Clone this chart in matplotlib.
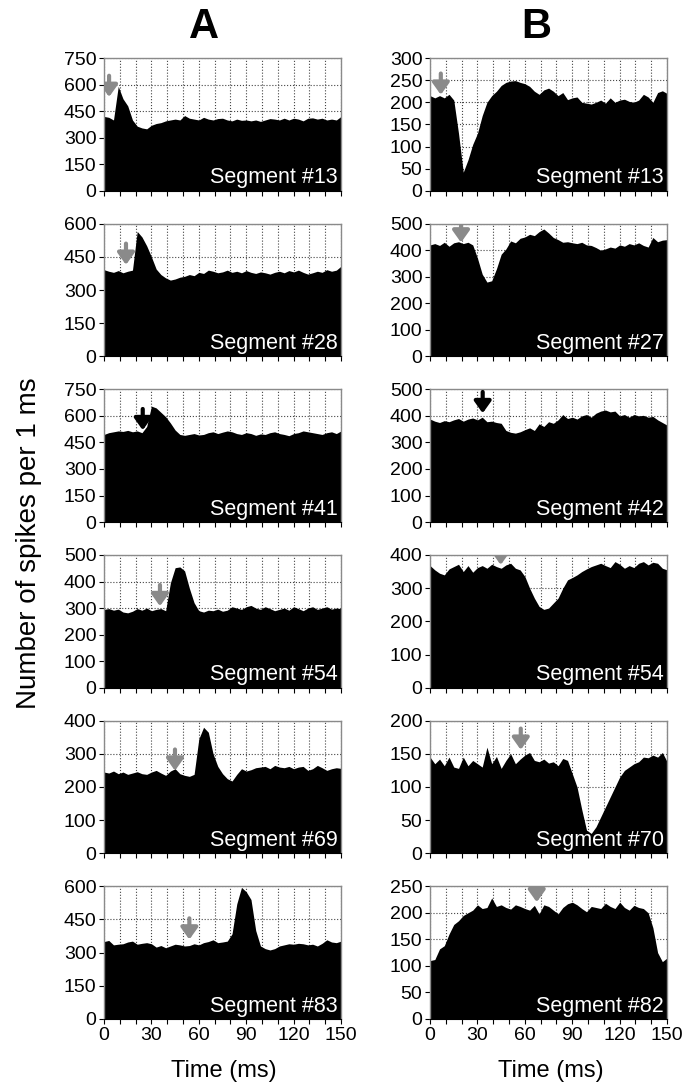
import numpy as np
import matplotlib
matplotlib.use("Agg")
import matplotlib.pyplot as plt
from matplotlib.patches import FancyArrowPatch

plt.rcParams['font.family'] = ['Liberation Sans', 'DejaVu Sans']

# --- data: spike counts per 1 ms, read every 3 ms (0..150 ms) ---
time_ms = np.arange(0, 151, 3)

a13 = [420, 415, 400, 590, 520, 480, 400, 365, 355, 350, 370, 380, 385, 395, 400, 405, 400,
       425, 410, 405, 400, 415, 405, 400, 408, 410, 400, 395, 405, 398, 400, 395, 400, 392,
       400, 408, 405, 400, 410, 400, 410, 405, 395, 410, 412, 405, 410, 400, 405, 400, 420]
b13 = [215, 210, 215, 210, 218, 205, 130, 42, 70, 105, 130, 170, 200, 215, 225, 238, 245,
       248, 249, 245, 242, 236, 225, 218, 228, 232, 225, 215, 222, 206, 210, 212, 200, 198,
       196, 200, 205, 198, 210, 200, 205, 207, 202, 200, 205, 218, 212, 200, 222, 226, 220]
a28 = [392, 385, 380, 388, 378, 385, 390, 565, 540, 500, 450, 395, 370, 355, 345, 350, 358,
       362, 370, 365, 380, 375, 390, 385, 378, 382, 390, 380, 385, 378, 388, 380, 375, 382,
       378, 372, 380, 385, 378, 388, 382, 390, 380, 372, 378, 385, 380, 392, 385, 390, 408]
b27 = [420, 425, 418, 430, 415, 428, 432, 425, 430, 420, 370, 310, 280, 285, 330, 385, 405,
       435, 428, 445, 450, 460, 455, 470, 480, 465, 448, 440, 430, 432, 428, 425, 430, 420,
       418, 410, 400, 405, 412, 408, 420, 415, 425, 420, 428, 418, 412, 448, 432, 438, 440]
a41 = [495, 505, 510, 515, 512, 518, 510, 515, 505, 540, 655, 645, 620, 595, 560, 520, 495,
       490, 495, 500, 492, 495, 505, 510, 500, 508, 515, 510, 500, 495, 505, 500, 490, 498,
       495, 505, 510, 500, 495, 488, 500, 505, 515, 510, 505, 500, 495, 505, 510, 500, 515]
b42 = [388, 380, 375, 382, 378, 385, 390, 380, 388, 392, 385, 395, 378, 380, 375, 372, 345,
       338, 335, 340, 348, 355, 345, 370, 360, 378, 372, 385, 405, 390, 395, 388, 400, 405,
       395, 410, 418, 422, 415, 418, 400, 405, 395, 405, 400, 402, 395, 398, 385, 375, 365]
a54 = [295, 298, 292, 296, 285, 282, 288, 298, 292, 300, 290, 295, 298, 290, 395, 452, 455,
       440, 375, 320, 290, 285, 292, 290, 296, 288, 292, 305, 300, 295, 305, 310, 300, 295,
       305, 298, 290, 295, 300, 292, 305, 298, 290, 300, 305, 295, 300, 305, 296, 300, 298]
b54 = [368, 355, 345, 340, 358, 365, 372, 350, 368, 348, 362, 368, 360, 372, 365, 360, 370,
       375, 360, 355, 335, 300, 270, 245, 236, 240, 255, 270, 300, 325, 332, 340, 350, 358,
       365, 370, 375, 368, 362, 380, 372, 360, 368, 362, 375, 380, 370, 378, 375, 360, 355]
a69 = [245, 242, 248, 240, 245, 238, 242, 246, 240, 238, 245, 250, 242, 235, 248, 255, 240,
       235, 232, 238, 345, 380, 365, 300, 262, 240, 225, 218, 238, 255, 248, 252, 258, 260,
       262, 255, 265, 260, 258, 262, 255, 260, 262, 250, 255, 265, 258, 250, 255, 258, 256]
b70 = [145, 135, 142, 132, 145, 130, 128, 145, 132, 140, 135, 130, 160, 135, 146, 128, 140,
       150, 135, 142, 148, 152, 140, 138, 142, 136, 138, 132, 143, 140, 120, 100, 66, 35,
       30, 40, 55, 70, 85, 100, 115, 125, 130, 135, 138, 145, 144, 148, 145, 152, 138]
a83 = [350, 355, 335, 338, 340, 348, 352, 338, 342, 345, 340, 325, 332, 322, 330, 338, 335,
       330, 332, 340, 335, 345, 350, 358, 345, 348, 352, 385, 520, 595, 575, 540, 400, 330,
       318, 312, 318, 330, 335, 340, 338, 342, 340, 335, 338, 330, 342, 358, 348, 345, 352]
b82 = [110, 112, 132, 138, 160, 178, 185, 195, 200, 205, 215, 208, 210, 228, 212, 215, 210,
       207, 215, 212, 208, 205, 214, 198, 215, 212, 205, 198, 210, 217, 220, 215, 208, 202,
       212, 210, 208, 218, 212, 208, 220, 210, 205, 214, 210, 208, 200, 172, 125, 108, 115]

col_a = [a13, a28, a41, a54, a69, a83]
col_b = [b13, b27, b42, b54, b70, b82]
names_a = ['Segment #13', 'Segment #28', 'Segment #41', 'Segment #54', 'Segment #69', 'Segment #83']
names_b = ['Segment #13', 'Segment #27', 'Segment #42', 'Segment #54', 'Segment #70', 'Segment #82']
ymax_a = [750, 600, 750, 500, 400, 600]
ymax_b = [300, 500, 500, 400, 200, 250]
ystep_a = [150, 150, 150, 100, 100, 150]
ystep_b = [50, 100, 100, 100, 50, 50]

# arrow: (time in ms, tip height)
arrows_a = [(3.2, 530), (13.9, 414), (24.5, 519), (35.4, 307), (44.9, 249), (54.0, 359)]
arrows_b = [(6.8, 217), (19.6, 429), (33.3, 410), (44.7, 370), (57.4, 156), (67.5, 220)]
arrow_col_a = ['#8a8a8a', '#8a8a8a', 'black', '#8a8a8a', '#8a8a8a', '#8a8a8a']
arrow_col_b = ['#8a8a8a', '#8a8a8a', 'black', '#8a8a8a', '#8a8a8a', '#8a8a8a']

# --- figure ---
fig = plt.figure(figsize=(7, 10.89), dpi=100)
gs = fig.add_gridspec(6, 2, left=0.1486, right=0.953, top=0.9467, bottom=0.0643,
                      wspace=0.3755, hspace=0.248)


def draw_panel(ax, vals, name, ymax, ystep, arrow, acol, last_row):
    ax.set_axisbelow(True)
    ax.fill_between(time_ms, 0, vals, color='black', lw=0, zorder=1)
    ax.set_xlim(0, 150)
    ax.set_ylim(0, ymax)
    ax.set_xticks(np.arange(0, 151, 10))
    if last_row:
        ax.set_xticklabels([str(v) if v % 30 == 0 else '' for v in range(0, 151, 10)])
    else:
        ax.set_xticklabels([])
    ax.set_yticks(np.arange(0, ymax + 1, ystep))
    ax.grid(True, linestyle=':', color='#444444', linewidth=0.8)
    ax.tick_params(axis='both', direction='out', length=3.5, width=0.8, labelsize=14, pad=2)
    for side in ['top', 'right', 'left']:
        ax.spines[side].set_color('#8a8a8a')
        ax.spines[side].set_linewidth(1.0)
    ax.spines['bottom'].set_color('black')
    ax.text(0.985, 0.055, name, transform=ax.transAxes, ha='right', va='baseline',
            color='white', fontsize=15.5, zorder=5)
    # small downward arrow marking the stimulus
    x, tip = arrow
    tail = tip + 0.16 * ymax
    ar = FancyArrowPatch((x, tail), (x, tip), arrowstyle='-|>,head_width=0.5,head_length=0.7',
                         mutation_scale=10, lw=3.0, color=acol, shrinkA=0, shrinkB=0, zorder=4)
    ax.add_patch(ar)


for r in range(6):
    ax = fig.add_subplot(gs[r, 0])
    draw_panel(ax, col_a[r], names_a[r], ymax_a[r], ystep_a[r], arrows_a[r], arrow_col_a[r], r == 5)
    ax = fig.add_subplot(gs[r, 1])
    draw_panel(ax, col_b[r], names_b[r], ymax_b[r], ystep_b[r], arrows_b[r], arrow_col_b[r], r == 5)

fig.text(204 / 700, 1 - 27 / 1089, 'A', ha='center', va='center', fontsize=30, fontweight='bold')
fig.text(536 / 700, 1 - 27 / 1089, 'B', ha='center', va='center', fontsize=30, fontweight='bold')
fig.text(224 / 700, 1 - 1071 / 1089, 'Time (ms)', ha='center', va='center', fontsize=17)
fig.text(551 / 700, 1 - 1071 / 1089, 'Time (ms)', ha='center', va='center', fontsize=17)
fig.text(29 / 700, 1 - 543 / 1089, 'Number of spikes per 1 ms', rotation=90, ha='center',
         va='center', fontsize=20)

fig.savefig('out.png', dpi=100)
